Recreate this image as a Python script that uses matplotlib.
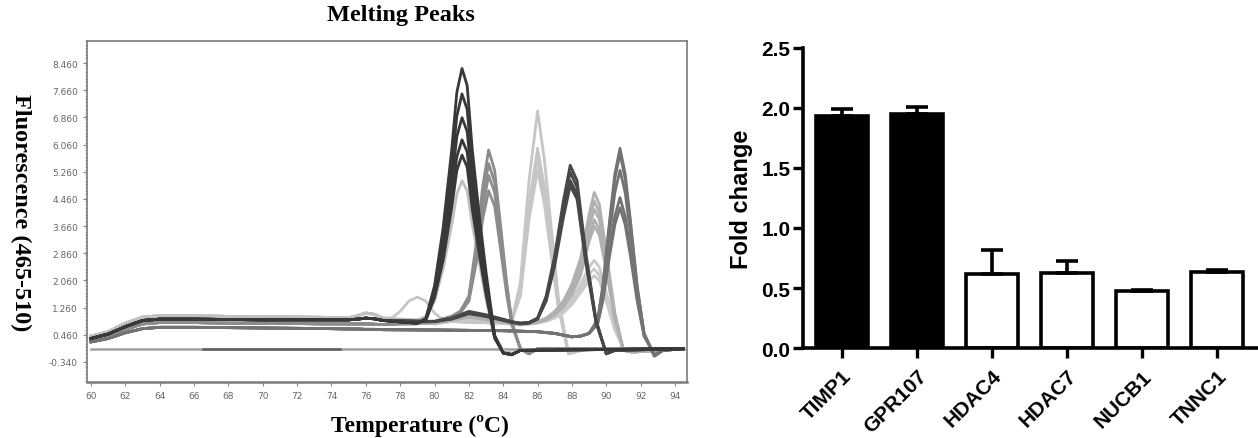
import numpy as np
import matplotlib
matplotlib.use("Agg")
import matplotlib.pyplot as plt
from matplotlib.ticker import MultipleLocator

# ---------------- melting peaks (left) ----------------
# low temperature part, shared shapes of the baseline bundle
temps_low = [60, 61, 62, 63, 64, 66, 68, 70, 72, 74, 75, 75.5, 76, 76.5, 77]
base_light = [0.42, 0.55, 0.8, 0.98, 1.02, 1.02, 1.0, 0.99, 0.98, 0.97, 0.96, 1.02, 1.1, 1.06, 0.95]
base_dark = [0.35, 0.48, 0.7, 0.88, 0.92, 0.92, 0.91, 0.9, 0.9, 0.9, 0.9, 0.92, 0.95, 0.93, 0.88]
base_mid = [0.3, 0.42, 0.62, 0.78, 0.82, 0.82, 0.8, 0.8, 0.79, 0.78, 0.78, 0.78, 0.78, 0.77, 0.76]
base_low = [0.25, 0.35, 0.52, 0.64, 0.68, 0.68, 0.67, 0.66, 0.65, 0.64, 0.63, 0.63, 0.62, 0.62, 0.61]

# peak near 81.6
temps_a = [79, 79.5, 80, 80.5, 81, 81.3, 81.6, 81.9, 82.2, 82.6, 83, 83.5, 84, 84.5, 85]
peaks_a = [
    [0.8, 0.95, 1.9, 3.6, 5.9, 7.6, 8.3, 7.8, 5.9, 4.0, 2.3, 0.45, -0.08, -0.13, 0.0],
    [0.8, 0.93, 1.8, 3.3, 5.4, 6.9, 7.55, 7.1, 5.4, 3.7, 2.1, 0.42, -0.08, -0.13, 0.0],
    [0.8, 0.92, 1.7, 3.05, 4.9, 6.3, 6.85, 6.45, 4.9, 3.35, 1.9, 0.4, -0.08, -0.12, 0.0],
    [0.8, 0.9, 1.6, 2.8, 4.5, 5.7, 6.2, 5.85, 4.45, 3.05, 1.75, 0.38, -0.07, -0.12, 0.0],
    [0.8, 0.9, 1.55, 2.65, 4.2, 5.3, 5.75, 5.4, 4.15, 2.85, 1.65, 0.36, -0.07, -0.12, 0.0],
]
peak_a_light = [0.9, 1.0, 1.45, 2.4, 3.7, 4.6, 5.0, 4.7, 3.7, 2.6, 1.5, 0.4, 0.0, -0.08, 0.0]

# peak near 83.15
temps_b = [80, 81, 81.5, 82, 82.5, 82.8, 83.15, 83.5, 83.8, 84.2, 84.5, 85, 85.5, 86]
peaks_b = [
    [0.85, 1.0, 1.15, 1.6, 3.4, 4.8, 5.9, 5.3, 3.9, 2.0, 0.85, 0.05, -0.1, 0.05],
    [0.85, 1.0, 1.15, 1.55, 3.2, 4.5, 5.5, 4.95, 3.65, 1.9, 0.8, 0.05, -0.1, 0.05],
    [0.85, 1.0, 1.12, 1.5, 3.0, 4.2, 5.15, 4.65, 3.45, 1.8, 0.78, 0.05, -0.1, 0.05],
    [0.85, 0.98, 1.1, 1.45, 2.75, 3.85, 4.7, 4.25, 3.15, 1.65, 0.75, 0.05, -0.08, 0.05],
]

# peak near 86.0 (first one carries the small hump at 79)
temps_c = [77.5, 78, 78.5, 79, 79.5, 80, 80.5, 81, 84, 84.5, 85, 85.5, 86, 86.4, 86.8, 87.2, 87.8, 88.3, 89]
peaks_c = [
    [0.95, 1.15, 1.45, 1.57, 1.45, 1.1, 0.9, 0.85, 0.8, 0.9, 2.0, 5.0, 7.05, 5.6, 3.6, 1.6, -0.1, -0.03, 0.05],
    [0.92, 0.9, 0.88, 0.87, 0.86, 0.86, 0.85, 0.85, 0.8, 0.88, 1.75, 4.3, 5.95, 4.8, 3.05, 1.4, -0.1, -0.03, 0.05],
    [0.92, 0.9, 0.88, 0.87, 0.86, 0.86, 0.85, 0.85, 0.8, 0.88, 1.7, 4.1, 5.65, 4.55, 2.9, 1.35, -0.1, -0.03, 0.05],
    [0.92, 0.9, 0.88, 0.87, 0.86, 0.86, 0.85, 0.85, 0.8, 0.88, 1.6, 3.85, 5.3, 4.3, 2.75, 1.3, -0.1, -0.03, 0.05],
]

# peak near 87.9
temps_d = [80, 81, 82, 83, 84, 84.5, 85, 85.5, 86, 86.5, 87, 87.5, 87.9, 88.3, 88.8, 89.4, 90, 90.5]
peaks_d = [
    [0.85, 0.95, 1.15, 1.05, 0.92, 0.85, 0.8, 0.82, 0.95, 1.6, 2.8, 4.4, 5.45, 5.0, 2.9, 0.9, -0.1, 0.0],
    [0.85, 0.95, 1.12, 1.03, 0.9, 0.84, 0.8, 0.82, 0.95, 1.55, 2.7, 4.25, 5.25, 4.8, 2.8, 0.88, -0.1, 0.0],
    [0.85, 0.93, 1.1, 1.0, 0.9, 0.83, 0.8, 0.82, 0.93, 1.5, 2.6, 4.05, 5.0, 4.6, 2.7, 0.85, -0.1, 0.0],
    [0.85, 0.92, 1.08, 1.0, 0.88, 0.82, 0.78, 0.8, 0.92, 1.45, 2.5, 3.9, 4.85, 4.45, 2.6, 0.82, -0.08, 0.0],
]

# peak near 89.3
temps_e = [80, 82, 84, 85, 86, 86.5, 87, 87.5, 88, 88.5, 89, 89.3, 89.6, 90, 90.5, 91, 91.5]
peaks_e = [
    [0.8, 1.05, 0.85, 0.78, 0.85, 0.95, 1.15, 1.45, 1.95, 2.7, 4.0, 4.65, 4.3, 2.9, 1.1, 0.0, -0.05],
    [0.8, 1.0, 0.85, 0.78, 0.85, 0.93, 1.1, 1.4, 1.85, 2.55, 3.8, 4.4, 4.05, 2.75, 1.05, 0.0, -0.05],
    [0.8, 1.0, 0.85, 0.78, 0.85, 0.92, 1.1, 1.35, 1.8, 2.45, 3.6, 4.15, 3.85, 2.6, 1.0, 0.0, -0.05],
    [0.8, 0.98, 0.83, 0.76, 0.83, 0.9, 1.05, 1.3, 1.7, 2.3, 3.35, 3.85, 3.55, 2.45, 0.95, 0.0, -0.05],
    [0.8, 0.98, 0.83, 0.76, 0.83, 0.9, 1.05, 1.28, 1.65, 2.2, 3.2, 3.65, 3.4, 2.35, 0.9, 0.0, -0.05],
]
peaks_e_low = [
    [0.78, 0.95, 0.8, 0.75, 0.82, 0.88, 1.0, 1.2, 1.5, 1.95, 2.45, 2.65, 2.45, 1.7, 0.7, 0.05, -0.05],
    [0.78, 0.95, 0.8, 0.75, 0.82, 0.88, 0.98, 1.15, 1.4, 1.8, 2.25, 2.4, 2.2, 1.55, 0.65, 0.05, -0.05],
    [0.78, 0.92, 0.8, 0.75, 0.8, 0.86, 0.95, 1.1, 1.35, 1.7, 2.05, 2.2, 2.05, 1.45, 0.6, 0.05, -0.05],
]

# peak near 90.8
temps_f = [80, 84, 86, 87, 87.5, 88, 88.5, 89, 89.5, 89.8, 90.2, 90.5, 90.8, 91.1, 91.4, 91.8, 92.2, 92.8, 93.3]
peaks_f = [
    [0.6, 0.58, 0.55, 0.5, 0.45, 0.4, 0.42, 0.5, 0.9, 1.9, 3.85, 5.2, 5.95, 5.2, 3.85, 1.9, 0.5, -0.17, 0.0],
    [0.6, 0.58, 0.55, 0.5, 0.45, 0.4, 0.42, 0.5, 0.9, 1.85, 3.75, 5.05, 5.8, 5.05, 3.75, 1.85, 0.5, -0.17, 0.0],
    [0.6, 0.58, 0.55, 0.5, 0.45, 0.4, 0.42, 0.5, 0.85, 1.75, 3.45, 4.65, 5.3, 4.65, 3.45, 1.75, 0.48, -0.15, 0.0],
    [0.6, 0.58, 0.55, 0.5, 0.45, 0.4, 0.42, 0.5, 0.8, 1.55, 2.95, 3.95, 4.5, 3.95, 2.95, 1.55, 0.45, -0.13, 0.0],
    [0.6, 0.58, 0.55, 0.5, 0.45, 0.4, 0.42, 0.5, 0.78, 1.45, 2.8, 3.7, 4.2, 3.7, 2.8, 1.45, 0.42, -0.12, 0.0],
]

tail_t = [94.5]
tail_v = [0.05]
flat_t = [60, 94.5]
flat_v = [0.05, 0.05]
flat_dark_t = [66.5, 74.5]

# ---------------- fold change (right) ----------------
genes = ["TIMP1", "GPR107", "HDAC4", "HDAC7", "NUCB1", "TNNC1"]
fold = [1.93, 1.95, 0.62, 0.625, 0.475, 0.63]
fold_err = [0.06, 0.06, 0.20, 0.10, 0.005, 0.02]
bar_fill = ["black", "black", "white", "white", "white", "white"]


def curve(base, temps, vals):
    t = np.concatenate([temps_low, temps, tail_t])
    v = np.concatenate([base, vals, tail_v])
    return t, v


fig = plt.figure(figsize=(12.58, 4.39), dpi=100)

ax1 = fig.add_axes([0.0692, 0.1276, 0.4769, 0.7768])
lw = 2.0

ax1.plot(flat_t, flat_v, color="#a0a0a0", lw=1.8, zorder=1)
ax1.plot(flat_dark_t, flat_v, color="#606060", lw=1.8, zorder=1)

for vals in peaks_c:
    ax1.plot(*curve(base_light, temps_c, vals), color="#c6c6c6", lw=lw)
for vals in peaks_e_low:
    ax1.plot(*curve(base_light, temps_e, vals), color="#cacaca", lw=lw)
for vals in peaks_e:
    ax1.plot(*curve(base_mid, temps_e, vals), color="#b0b0b0", lw=lw)
ax1.plot(*curve(base_light, temps_a, peak_a_light), color="#c0c0c0", lw=lw)
for vals in peaks_b:
    ax1.plot(*curve(base_mid, temps_b, vals), color="#8c8c8c", lw=lw)
for vals in peaks_f:
    ax1.plot(*curve(base_low, temps_f, vals), color="#737373", lw=lw)
for vals in peaks_d:
    ax1.plot(*curve(base_dark, temps_d, vals), color="#474747", lw=lw)
for vals in peaks_a:
    ax1.plot(*curve(base_dark, temps_a, vals), color="#383838", lw=lw)

ax1.set_xlim(59.77, 94.7)
ax1.set_ylim(-0.93, 9.11)
yt = [-0.34 + 0.8 * i for i in range(12)]
ax1.set_yticks(yt)
ax1.set_yticklabels(["%.3f" % v for v in yt])
ax1.yaxis.set_minor_locator(MultipleLocator(0.1))
ax1.set_xticks(range(60, 95, 2))
ax1.tick_params(axis="both", which="major", labelsize=6.5, labelcolor="#666666",
                color="#888888", length=3, width=0.8)
ax1.tick_params(axis="y", which="minor", color="#999999", length=1.5, width=0.6)
for sp in ax1.spines.values():
    sp.set_color("#7a7a7a")
    sp.set_linewidth(1.2)
ax1.spines["bottom"].set_linewidth(1.8)

serif = "Liberation Serif"
fig.text(401 / 1258, 1 - 15 / 439, "Melting Peaks", fontfamily=serif, fontweight="bold",
         fontsize=17.5, ha="center", va="center")
ax1.set_xlabel("Temperature (ºC)", fontfamily=serif, fontweight="bold", fontsize=17)
ax1.xaxis.set_label_coords((420 - 87) / 600, -0.095, transform=ax1.transAxes)
ax1.xaxis.label.set_va("top")
ax1.set_ylabel("Fluorescence (465-510)", fontfamily=serif, fontweight="bold", fontsize=17.5,
               rotation=270, labelpad=28, va="bottom")

# ---------------- bars ----------------
sans = "Liberation Sans"
ax2 = fig.add_axes([0.6383, 0.2050, 0.3609, 0.6834])
x = np.arange(len(genes))
ax2.bar(x, fold, width=0.7, color=bar_fill, edgecolor="black", linewidth=2.6, zorder=2)
ax2.errorbar(x, fold, yerr=[np.zeros(len(fold)), fold_err], fmt="none", ecolor="black",
             elinewidth=2.6, capsize=8, capthick=2.6, zorder=3)
ax2.set_xlim(-0.52, 5.53)
ax2.set_ylim(0, 2.5)
ax2.set_yticks([0.0, 0.5, 1.0, 1.5, 2.0, 2.5])
ax2.set_yticklabels(["0.0", "0.5", "1.0", "1.5", "2.0", "2.5"], fontfamily=sans,
                    fontweight="bold", fontsize=15)
ax2.set_xticks(x)
ax2.set_xticklabels(genes, rotation=45, ha="right", rotation_mode="anchor",
                    fontfamily=sans, fontweight="bold", fontsize=15)
ax2.tick_params(axis="both", direction="out", length=7, width=2.4, pad=2)
ax2.tick_params(axis="x", pad=6)
for s in ["top", "right"]:
    ax2.spines[s].set_visible(False)
for s in ["left", "bottom"]:
    ax2.spines[s].set_linewidth(2.6)
ax2.set_ylabel("Fold change", fontfamily=sans, fontweight="bold", fontsize=17, labelpad=6)

fig.savefig("out.png", dpi=100)
